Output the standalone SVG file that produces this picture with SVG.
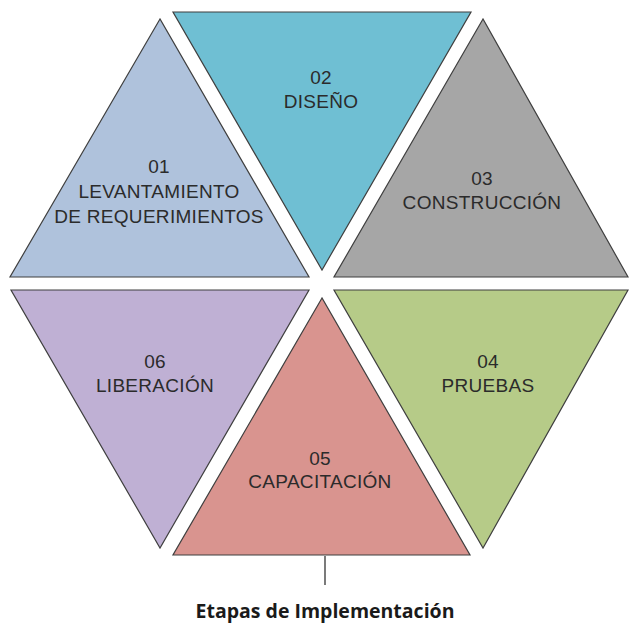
<svg xmlns="http://www.w3.org/2000/svg" width="629" height="623" viewBox="0 0 629 623">
<style>
.tri{stroke:#3f3f3f;stroke-width:1.2;stroke-linejoin:miter}
.lbl{font-family:"Liberation Sans",Arial,sans-serif;font-size:19px;fill:#2b2b2b;text-anchor:middle;letter-spacing:0.3px}
.cap{font-family:"Open Sans","Liberation Sans",sans-serif;font-size:19.5px;font-weight:bold;fill:#1a1a1a;text-anchor:middle}
</style>
<rect width="629" height="623" fill="#ffffff"/>
<g id="n01">
<polygon class="tri" points="160,19 10,277 309,277" fill="#afc2dc"/>
<text class="lbl" x="159" y="173">01</text>
<text class="lbl" x="159" y="198">LEVANTAMIENTO</text>
<text class="lbl" x="159" y="223">DE REQUERIMIENTOS</text>
</g>
<g id="n02">
<polygon class="tri" points="173,12 471,12 322,270" fill="#6fbfd3"/>
<text class="lbl" x="321" y="84">02</text>
<text class="lbl" x="321" y="108">DISEÑO</text>
</g>
<g id="n03">
<polygon class="tri" points="483,19 334,277 628,277" fill="#a6a6a6"/>
<text class="lbl" x="482" y="185">03</text>
<text class="lbl" x="482" y="209">CONSTRUCCIÓN</text>
</g>
<g id="n04">
<polygon class="tri" points="334,290 628,290 483,548" fill="#b6cb88"/>
<text class="lbl" x="488" y="368">04</text>
<text class="lbl" x="488" y="392">PRUEBAS</text>
</g>
<g id="n05">
<polygon class="tri" points="322,298 173,555 470,555" fill="#d9948f"/>
<text class="lbl" x="320" y="465">05</text>
<text class="lbl" x="320" y="488">CAPACITACIÓN</text>
</g>
<g id="n06">
<polygon class="tri" points="11,290 309,290 160,548" fill="#bfb0d4"/>
<text class="lbl" x="155" y="368">06</text>
<text class="lbl" x="155" y="392">LIBERACIÓN</text>
</g>
<g id="connectors">
<line x1="325" y1="556" x2="325" y2="585" stroke="#333333" stroke-width="1.3"/>
</g>
<g id="caption">
<text class="cap" x="325" y="618">Etapas de Implementación</text>
</g>
</svg>
